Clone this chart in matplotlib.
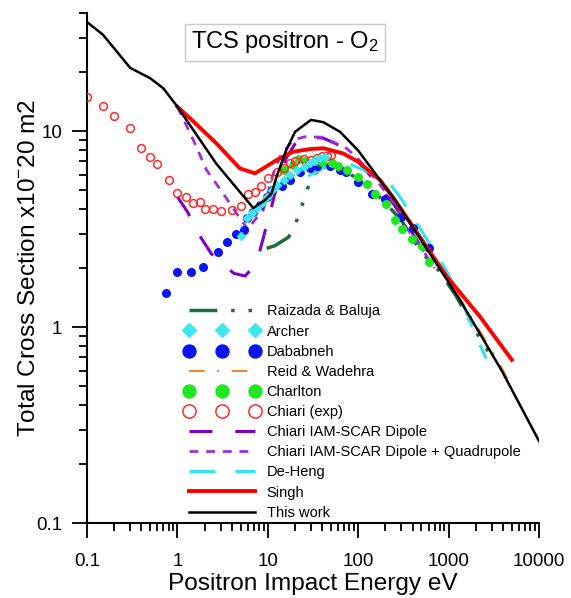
import numpy as np
import matplotlib
matplotlib.use("Agg")
import matplotlib.pyplot as plt

plt.rcParams['font.family'] = ['Liberation Sans', 'DejaVu Sans']
plt.rcParams['mathtext.default'] = 'regular'

# --- data (E in eV, TCS in 1e-20 m2) ---
work_E = [0.1, 0.15, 0.2, 0.3, 0.5, 0.7, 1.0, 2.7, 6.9, 9.3, 11, 12.5, 16, 20, 30, 41, 63, 100, 255, 600, 1340, 3860, 10000]
work_s = [36, 31, 26.4, 21, 18.6, 16.5, 13.3, 6.8, 4.05, 4.44, 4.8, 5.85, 8.0, 9.9, 11.4, 11.1, 9.9, 7.95, 4.44, 2.43, 1.37, 0.60, 0.262]

singh_E = [1.0, 1.5, 2.7, 4.9, 7.2, 9, 12.5, 19, 30, 41, 68, 100, 174, 255, 953, 2222, 5000]
singh_s = [13.3, 11.2, 8.65, 6.45, 6.08, 6.47, 7.11, 7.84, 8.1, 8.17, 7.69, 6.97, 5.62, 4.44, 1.81, 1.13, 0.68]

chiari_E = [0.1, 0.15, 0.2, 0.3, 0.4, 0.5, 0.6, 0.8, 1.0, 1.25, 1.5, 1.8, 2.0, 2.5, 3.0, 4.0, 5.0, 6.0,
            7.2, 8.5, 10, 12.5, 15, 17.5, 20, 25, 30, 35, 40, 45, 50]
chiari_s = [15.0, 13.4, 11.9, 10.4, 8.2, 7.4, 6.8, 5.6, 4.84, 4.6, 4.27, 4.34, 4.0, 4.0, 3.92, 3.95, 4.16, 4.8,
            4.9, 5.25, 5.75, 6.2, 6.5, 6.85, 7.0, 7.2, 7.1, 7.3, 7.45, 7.5, 7.55]

dab_E = [0.75, 1.0, 1.4, 1.9, 2.8, 3.5, 4.5, 5.4, 5.9, 6.9, 8.1, 9.7, 11, 14.3, 17.6, 22.6, 29, 35, 49, 63, 74,
         100, 141, 198, 300, 400, 600]
dab_s = [1.50, 1.90, 1.90, 2.02, 2.41, 2.71, 3.0, 3.12, 3.59, 3.88, 4.19, 4.62, 5.0, 5.24, 5.62, 6.2, 6.45, 6.65,
         6.6, 6.3, 6.2, 5.5, 4.8, 4.48, 3.65, 3.2, 2.52]

charlton_E = [15, 19, 22, 26, 33, 40, 51, 60, 76, 100, 125, 153, 203, 255, 302, 397, 505, 612]
charlton_s = [6.3, 6.7, 7.2, 7.0, 7.0, 6.95, 6.85, 6.63, 6.3, 5.85, 5.35, 4.75, 4.24, 3.51, 3.15, 2.81, 2.6, 2.14]

archer_E = [5.1, 5.9, 6.6, 7.5, 8.6, 9.7, 11, 12.5, 15, 17.6, 21, 25, 29, 33, 38, 43]
archer_s = [2.9, 3.6, 3.8, 4.03, 4.27, 4.62, 5.0, 5.3, 5.62, 5.96, 6.32, 6.58, 6.84, 7.11, 7.26, 7.39]

raizada_E = [9.7, 12, 14, 16.9, 20, 22.6, 25.8, 29, 32, 40, 49, 70, 100, 150, 200, 300, 500, 800, 1000, 1220, 2000, 3000]
raizada_s = [2.52, 2.6, 2.72, 2.87, 3.29, 3.91, 4.59, 5.5, 6.0, 6.5, 6.7, 6.4, 5.6, 4.9, 4.3, 3.5, 2.4, 1.92, 1.64, 1.43, 0.95, 0.7]

reid_E = [200, 300, 500, 1000, 2000, 3860, 5000]
reid_s = [5.3, 4.07, 2.84, 1.74, 1.03, 0.62, 0.49]

dip_E = [1.0, 1.3, 1.7, 2.5, 4.2, 5.6, 7.5, 9, 11, 13, 16, 20, 25, 30, 41, 57, 74, 100, 150, 250, 400, 700]
dip_s = [4.62, 3.85, 3.0, 2.28, 1.88, 1.82, 2.11, 2.9, 4.11, 5.6, 7.3, 8.6, 9.2, 9.3, 9.2, 8.6, 8.0, 7.0, 5.6, 4.2, 3.0, 2.0]

dq_E = [1.0, 1.5, 2.1, 3.2, 4.5, 6.1, 6.9, 8.9, 11.5, 13.6, 19, 25.8, 41, 57, 74, 100, 150, 250, 345, 410, 700]
dq_s = [13.3, 9.0, 6.32, 4.81, 3.8, 3.12, 3.44, 3.95, 6.08, 7.39, 9.0, 9.35, 9.3, 8.65, 8.17, 7.2, 5.8, 4.3, 3.19, 2.89, 2.0]

deheng_E = [28, 35, 45, 60, 80, 100, 150, 224, 300, 500, 800, 1000, 1500, 2100, 2600]
deheng_s = [5.9, 6.2, 6.7, 6.9, 6.8, 6.5, 6.0, 5.4, 4.5, 3.1, 2.2, 1.85, 1.25, 0.86, 0.69]

fig = plt.figure(figsize=(5.71, 5.98), dpi=100)
ax = fig.add_axes([0.1524, 0.1254, 0.7916, 0.8528])

ax.plot(raizada_E, raizada_s, color='#1E6B3C', lw=2.5, ls=(0, (8, 4, 1, 4, 1, 4, 1, 4)), label='Raizada & Baluja')
ax.plot(archer_E, archer_s, ls='none', marker='D', ms=4.3, color='#3FE6EE', label='Archer', zorder=4)
ax.plot(dab_E, dab_s, ls='none', marker='o', ms=5.5, color='#0A14F0', label='Dababneh', zorder=3)
ax.plot(reid_E, reid_s, color='#FF7F27', lw=1.5, ls=(0, (7.5, 6, 1, 6)), label='Reid & Wadehra')
ax.plot(charlton_E, charlton_s, ls='none', marker='o', ms=5.5, color='#22E622', label='Charlton', zorder=3)
ax.plot(chiari_E, chiari_s, ls='none', marker='o', ms=5.6, mfc='none', mec='#FF2A2A', mew=1.1,
        label='Chiari (exp)', zorder=3)
ax.plot(dip_E, dip_s, color='#8000C8', lw=2.2, ls=(0, (7.5, 7.5)), label='Chiari IAM-SCAR Dipole')
ax.plot(dq_E, dq_s, color='#9B30D8', lw=2.0, ls=(0, (3.2, 2.8)), label='Chiari IAM-SCAR Dipole + Quadrupole')
ax.plot(deheng_E, deheng_s, color='#2EE6F0', lw=2.2, ls=(0, (8.5, 6.5)), label='De-Heng')
ax.plot(singh_E, singh_s, color='#FF0000', lw=2.8, label='Singh', zorder=5)
ax.plot(work_E, work_s, color='black', lw=1.8, label='This work', zorder=6)

ax.set_xscale('log')
ax.set_yscale('log')
ax.set_xlim(0.1, 10000)
ax.set_ylim(0.1, 40)
ax.set_xticks([0.1, 1, 10, 100, 1000, 10000])
ax.set_xticklabels(['0.1', '1', '10', '100', '1000', '10000'])
ax.set_yticks([0.1, 1, 10])
ax.set_yticklabels(['0.1', '1', '10'])

for s in ['top', 'right']:
    ax.spines[s].set_visible(False)
for s in ['left', 'bottom']:
    ax.spines[s].set_linewidth(1.5)
ax.tick_params(which='major', length=10.8, width=1.3, labelsize=13.5)
ax.tick_params(axis='x', which='major', pad=11)
ax.tick_params(axis='y', which='major', pad=7)
ax.tick_params(which='minor', length=5.8, width=1.3)

ax.set_xlabel('Positron Impact Energy eV', fontsize=17.6, labelpad=2)
ax.set_ylabel('Total Cross Section x10$^{-}$20 m2', fontsize=17.6, labelpad=-3)

fig.text(0.499, 0.929, 'TCS positron - O$_2$', fontsize=17, ha='center', va='center',
         bbox=dict(boxstyle='square,pad=0.25', fc='white', ec='#C8C8C8', lw=1))

ax.legend(loc='upper left', bbox_to_anchor=(0.324, 0.491), bbox_transform=fig.transFigure,
          frameon=False, fontsize=10.5, numpoints=3, markerscale=1.7, handlelength=5.1,
          handletextpad=0.5, labelspacing=0.42, borderpad=0, borderaxespad=0)

fig.savefig('out.png', dpi=100)
